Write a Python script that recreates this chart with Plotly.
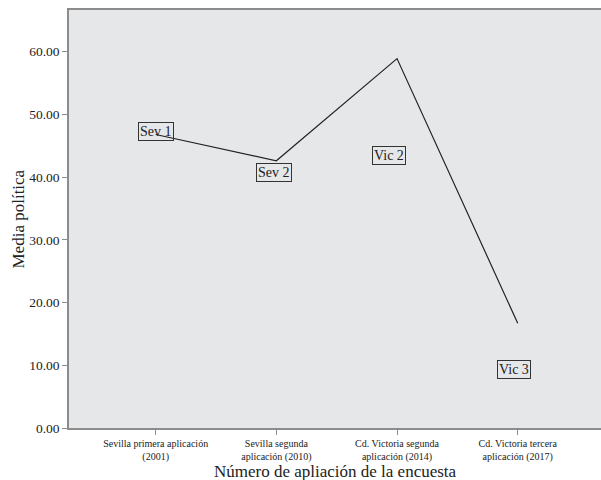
import plotly.graph_objects as go

categories = ["Sevilla primera aplicación<br>(2001)", "Sevilla segunda<br>aplicación (2010)",
              "Cd. Victoria segunda<br>aplicación (2014)", "Cd. Victoria tercera<br>aplicación (2017)"]
values = [46.8, 42.6, 58.9, 16.7]
labels = ["Sev 1", "Sev 2", "Vic 2", "Vic 3"]
label_x = [0.0, 0.98, 1.93, 2.97]
label_y = [47.3, 40.8, 43.4, 9.25]
y_ticks = [0, 10, 20, 30, 40, 50, 60]

xs = list(range(len(categories)))
FONT = "Palatino Linotype, Book Antiqua, Palatino, Liberation Serif, serif"
AX = "#8c8c8c"

fig = go.Figure()
fig.add_trace(go.Scatter(x=xs, y=values, mode="lines",
                         line=dict(color="#222222", width=1.2), showlegend=False,
                         hoverinfo="skip"))

for lx, ly, t in zip(label_x, label_y, labels):
    fig.add_annotation(x=lx, y=ly, text=t, showarrow=False,
                       font=dict(family=FONT, size=14, color="#222222"),
                       bordercolor="#333333", borderwidth=1, borderpad=1,
                       bgcolor="rgba(0,0,0,0)")

fig.add_annotation(x=0.5, y=0, xref="paper", yref="paper", yshift=-43,
                   xanchor="center", yanchor="middle", showarrow=False,
                   text="Número de apliación de la encuesta",
                   font=dict(family=FONT, size=17, color="#222222"))
fig.add_annotation(x=0, y=0.5, xref="paper", yref="paper", xshift=-63,
                   xanchor="left", yanchor="middle", showarrow=False, textangle=-90,
                   text="Media política",
                   font=dict(family=FONT, size=17, color="#222222"))

fig.update_layout(
    width=601, height=480,
    margin=dict(l=69, r=0, t=10, b=52, autoexpand=False),
    paper_bgcolor="white", plot_bgcolor="#e6e7e9",
    font=dict(family=FONT, color="#222222"),
    xaxis=dict(range=[-0.718, 3.69], tickmode="array", tickvals=xs, ticktext=categories,
               showgrid=False, zeroline=False, showline=True, linecolor=AX, linewidth=1.5,
               mirror=True, ticks="outside", ticklen=5, tickcolor=AX, automargin=False,
               tickfont=dict(family=FONT, size=10, color="#222222")),
    yaxis=dict(range=[0, 66.65], tickmode="array", tickvals=y_ticks,
               ticktext=[f"{v:.2f}" for v in y_ticks],
               showgrid=False, zeroline=False, showline=True, linecolor=AX, linewidth=1.5,
               mirror=False, ticks="outside", ticklen=5, tickcolor=AX, automargin=False,
               tickfont=dict(family=FONT, size=13.5, color="#222222")),
)

fig.write_html("out.html", config={"displayModeBar": False},
               post_script="document.body.style.margin='0';document.body.style.overflow='hidden';")
